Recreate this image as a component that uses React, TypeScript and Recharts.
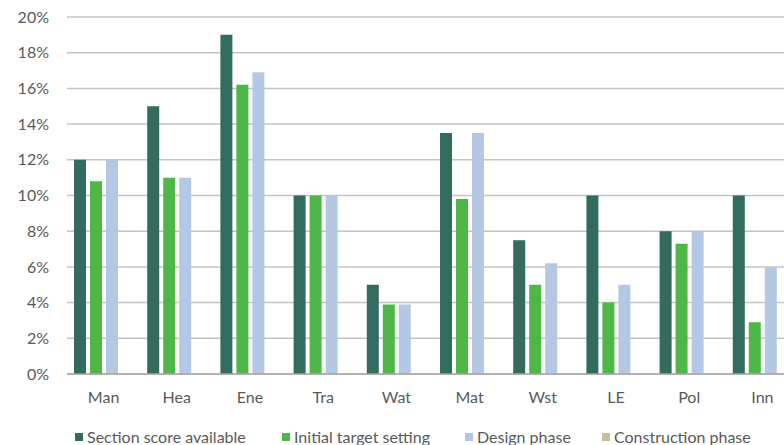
import { BarChart, Bar, XAxis, YAxis, CartesianGrid, Legend } from 'recharts'

const categories = ['Man', 'Hea', 'Ene', 'Tra', 'Wat', 'Mat', 'Wst', 'LE', 'Pol', 'Inn']
const sectionScore = [12, 15, 19, 10, 5, 13.5, 7.5, 10, 8, 10]
const initialTarget = [10.8, 11, 16.2, 10, 3.9, 9.8, 5, 4, 7.3, 2.9]
const designPhase = [12, 11, 16.9, 10, 3.9, 13.5, 6.2, 5, 8, 6]
const constructionPhase = [0, 0, 0, 0, 0, 0, 0, 0, 0, 0]
const yTicks = [0, 2, 4, 6, 8, 10, 12, 14, 16, 18, 20]
const seriesNames = ['Section score available', 'Initial target setting', 'Design phase', 'Construction phase']

const data = categories.map((name, i) => ({
  name,
  section: sectionScore[i],
  initial: initialTarget[i],
  design: designPhase[i],
  construction: constructionPhase[i],
}))

const FONT = 'Lato, "Open Sans", sans-serif'
const TEXT = '#595959'
// widths of each legend item so the squares sit where the original has them
const legendWidths = [207, 183, 137, 170]

function LegendRow({ payload }: any) {
  const items = [...(payload ?? [])].sort(
    (a: any, b: any) => seriesNames.indexOf(a.value) - seriesNames.indexOf(b.value)
  )
  return (
    <div style={{ display: 'flex', fontFamily: FONT, fontSize: 16, color: TEXT, whiteSpace: 'nowrap' }}>
      {items.map((p: any, i: number) => (
        <div key={p.value} style={{ display: 'flex', alignItems: 'center', width: legendWidths[i] }}>
          <span style={{ width: 8, height: 8, background: p.color, marginRight: 4, display: 'inline-block' }} />
          <span>{p.value}</span>
        </div>
      ))}
    </div>
  )
}

export default function App() {
  return (
    <div style={{ position: 'fixed', left: 0, top: 0, width: 784, height: 445, overflow: 'hidden', background: '#fff' }}>
      <BarChart
        width={820}
        height={445}
        data={data}
        margin={{ top: 17, right: 21, left: 0, bottom: 0 }}
        barSize={12}
        barGap={4}
      >
        <CartesianGrid vertical={false} stroke="#c4c4c4" strokeWidth={1.5} />
        <XAxis
          dataKey="name"
          height={52}
          tickLine={false}
          tickSize={6}
          tickMargin={12}
          axisLine={{ stroke: '#a6a6a6', strokeWidth: 1.5 }}
          tick={{ fill: TEXT, fontSize: 16, fontFamily: FONT }}
          interval={0}
        />
        <YAxis
          width={67}
          domain={[0, 20]}
          ticks={yTicks}
          tickFormatter={(v) => `${v}%`}
          axisLine={false}
          tickLine={false}
          tickSize={6}
          tickMargin={12}
          tick={{ fill: TEXT, fontSize: 16, fontFamily: FONT }}
        />
        <Legend
          content={<LegendRow />}
          wrapperStyle={{ position: 'absolute', left: 75, top: 427, width: 760, height: 19 }}
        />
        <Bar dataKey="section" name={seriesNames[0]} fill="#336b5f" isAnimationActive={false} />
        <Bar dataKey="initial" name={seriesNames[1]} fill="#4eb748" isAnimationActive={false} />
        <Bar dataKey="design" name={seriesNames[2]} fill="#b5c8e3" isAnimationActive={false} />
        <Bar dataKey="construction" name={seriesNames[3]} fill="#c4bf97" isAnimationActive={false} />
      </BarChart>
    </div>
  )
}
